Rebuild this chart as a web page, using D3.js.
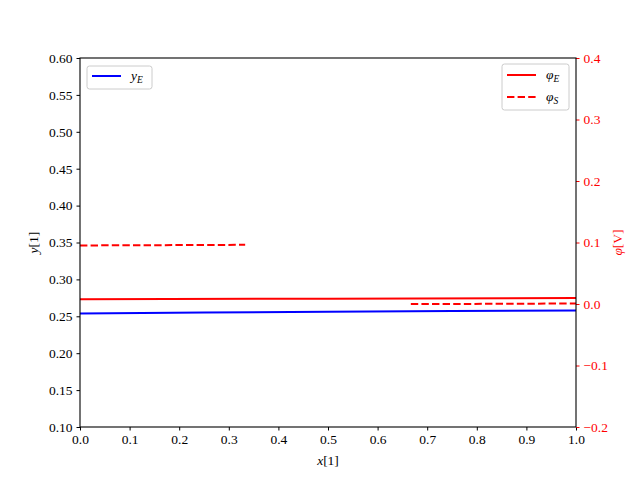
<!DOCTYPE html>
<html><head><meta charset="utf-8">
<script src="https://cdn.jsdelivr.net/npm/d3@7"></script>
<style>body{margin:0;background:#fff}text{font-family:"Liberation Serif","DejaVu Serif",serif}</style>
</head><body><svg id="c" width="640" height="480"></svg>
<script>
const xTicks = [0,0.1,0.2,0.3,0.4,0.5,0.6,0.7,0.8,0.9,1.0];
const yLeftTicks = [0.10,0.15,0.20,0.25,0.30,0.35,0.40,0.45,0.50,0.55,0.60];
const yRightTicks = [-0.2,-0.1,0.0,0.1,0.2,0.3,0.4];
const yEx = [0,0.25,0.5,0.75,1];
const yEv = [0.2539,0.2550,0.2561,0.2571,0.2579];
const phiEx = [0,0.5,1];
const phiEv = [0.0076,0.0087,0.0098];
const phiS1x = [0,0.333];
const phiS1v = [0.0952,0.0962];
const phiS2x = [0.667,1];
const phiS2v = [-0.0002,0.0008];

const svg = d3.select("#c");
const L=80,R=576,T=58,B=427;
const x = d3.scaleLinear().domain([0,1]).range([L,R]);
const yl = d3.scaleLinear().domain([0.1,0.6]).range([B,T]);
const yr = d3.scaleLinear().domain([-0.2,0.4]).range([B,T]);
const fs = "13.5px";

function drawLine(xs, vs, sc, color, dash){
  const p = svg.append("path").datum(xs.map((d,i)=>[d,vs[i]]))
    .attr("d", d3.line().x(d=>x(d[0])).y(d=>sc(d[1])))
    .attr("fill","none").attr("stroke",color).attr("stroke-width",2);
  if(dash) p.attr("stroke-dasharray","7.4,3.2");
}
drawLine(yEx,yEv,yl,"#0000ff");
drawLine(phiEx,phiEv,yr,"#ff0000");
drawLine(phiS1x,phiS1v,yr,"#ff0000",true);
drawLine(phiS2x,phiS2v,yr,"#ff0000",true);

const gx = svg.append("g").attr("transform",`translate(0,${B})`)
  .call(d3.axisBottom(x).tickValues(xTicks).tickFormat(d3.format(".1f")).tickSizeOuter(0).tickSize(3.5).tickPadding(4));
const gl = svg.append("g").attr("transform",`translate(${L},0)`)
  .call(d3.axisLeft(yl).tickValues(yLeftTicks).tickFormat(d3.format(".2f")).tickSizeOuter(0).tickSize(3.5).tickPadding(4));
const gr = svg.append("g").attr("transform",`translate(${R},0)`)
  .call(d3.axisRight(yr).tickValues(yRightTicks).tickFormat(d=>d3.format(".1f")(d).replace("-","\u2212")).tickSizeOuter(0).tickSize(3.5).tickPadding(4));
[gx,gl,gr].forEach(g=>{g.selectAll("text").style("font-size",fs).style("font-family",'"Liberation Serif",serif');g.select(".domain").remove();});
gx.selectAll("line").attr("stroke","#000");
gl.selectAll("line").attr("stroke","#000");
gr.selectAll("line").attr("stroke","#ff0000");
gr.selectAll("text").attr("fill","#ff0000");
// frame
svg.append("rect").attr("x",L).attr("y",T).attr("width",R-L).attr("height",B-T)
  .attr("fill","none").attr("stroke","#000").attr("stroke-width",1.1);

// axis labels
const xl = svg.append("text").attr("x",(L+R)/2).attr("y",465).attr("text-anchor","middle").style("font-size",fs);
xl.append("tspan").attr("font-style","italic").text("x");xl.append("tspan").text("[1]");
const ylab = svg.append("text").attr("transform",`translate(38,${(T+B)/2}) rotate(-90)`).attr("text-anchor","middle").style("font-size",fs);
ylab.append("tspan").attr("font-style","italic").text("y");ylab.append("tspan").text("[1]");
const yrlab = svg.append("text").attr("transform",`translate(622,${(T+B)/2}) rotate(-90)`).attr("text-anchor","middle").attr("fill","#ff0000").style("font-size",fs);
yrlab.append("tspan").attr("font-style","italic").text("φ");yrlab.append("tspan").text("[V]");

// legends
function legendBox(x0,y0,w,h){
  svg.append("rect").attr("x",x0).attr("y",y0).attr("width",w).attr("height",h).attr("rx",2.5)
    .attr("fill","#fff").attr("fill-opacity",0.8).attr("stroke","#cccccc").attr("stroke-width",1);
}
function legendItem(x0,y0,color,dash,sym,sub){
  const l = svg.append("line").attr("x1",x0).attr("x2",x0+29).attr("y1",y0).attr("y2",y0)
    .attr("stroke",color).attr("stroke-width",2);
  if(dash) l.attr("stroke-dasharray","7.4,3.2");
  const t = svg.append("text").attr("x",x0+39).attr("y",y0+4).style("font-size",fs).attr("font-style","italic");
  t.append("tspan").text(sym);
  t.append("tspan").attr("dy",3).style("font-size","9.5px").text(sub);
}
legendBox(87,66,65,23);
legendItem(92,76,"#0000ff",false,"y","E");
legendBox(502,64,67,46);
legendItem(507,75,"#ff0000",false,"φ","E");
legendItem(507,97,"#ff0000",true,"φ","S");
</script></body></html>
